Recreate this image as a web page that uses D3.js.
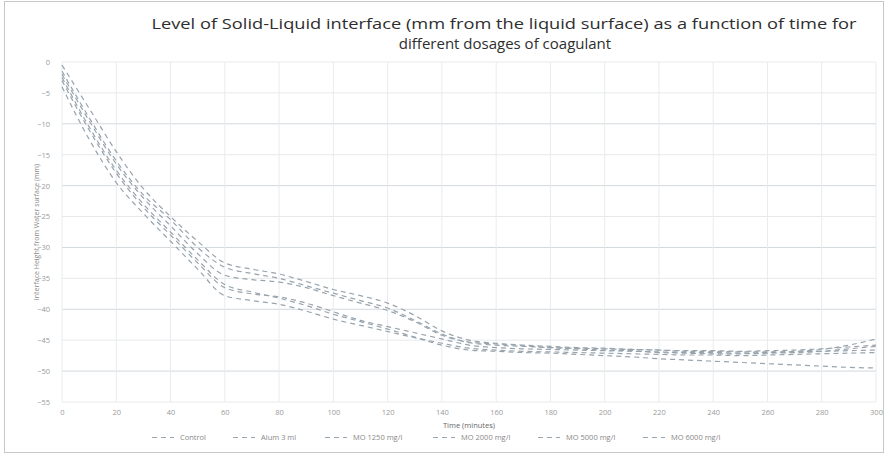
<!DOCTYPE html>
<html>
<head>
<meta charset="utf-8">
<script src="https://cdn.jsdelivr.net/npm/d3@7"></script>
<style>
  body { margin: 0; background: #fff; }
  text { font-family: "Open Sans", "Liberation Sans", sans-serif; }
</style>
</head>
<body>
<div id="chart"></div>
<script>
// time in minutes
const times = [0, 10, 20, 30, 40, 50, 60, 70, 80, 90, 100, 110, 120, 130, 140, 150,
  160, 170, 180, 190, 200, 210, 220, 230, 240, 250, 260, 270, 280, 290, 300];

const seriesNames = ["Control", "Alum 3 ml", "MO 1250 mg/l", "MO 2000 mg/l", "MO 5000 mg/l", "MO 6000 mg/l"];

const control = [-0.5, -7.5, -14.5, -20.5, -25, -29, -32.5, -33.5, -34.3, -35.5, -36.8, -37.8, -39, -41, -43.5, -45,
  -45.5, -45.8, -46, -46.2, -46.3, -46.5, -46.6, -46.8, -46.8, -46.9, -46.9, -46.8, -46.5, -45.8, -44.8];
const alum = [-2, -9.5, -16.5, -22, -26.5, -31, -34.5, -35.2, -35.6, -36.5, -37.8, -39, -40.2, -42, -44.2, -45.3,
  -45.6, -45.9, -46.2, -46.4, -46.6, -46.7, -47, -47.1, -47.2, -47.2, -47.1, -47, -46.8, -46.4, -46];
const mo1250 = [-3, -11, -18, -23.5, -28, -32.5, -36.5, -37.5, -38, -39, -40.4, -41.8, -42.8, -43.8, -44.8, -45.8,
  -46.2, -46.4, -46.5, -46.6, -46.7, -46.8, -46.9, -47, -47, -47.1, -47, -46.9, -46.8, -46.7, -46.6];
const mo2000 = [-4, -12.5, -19.5, -24.5, -29, -33.5, -37.8, -38.6, -39.2, -40.3, -41.6, -42.6, -43.6, -44.6, -45.5, -46.3,
  -46.6, -46.8, -46.9, -47, -47.1, -47.2, -47.3, -47.4, -47.4, -47.5, -47.4, -47.3, -47.2, -47.1, -47];
const mo5000 = [-2.5, -10.5, -17.5, -23, -27.5, -32, -36, -37.2, -38.2, -39.4, -40.8, -42, -43.2, -44.5, -45.8, -46.6,
  -46.8, -47, -47.1, -47.3, -47.5, -47.7, -48, -48.2, -48.4, -48.6, -48.8, -49, -49.2, -49.4, -49.5];
const mo6000 = [-1.5, -9, -16, -21.5, -25.5, -30, -33.2, -34.2, -35, -36.2, -37.4, -38.6, -39.8, -41.8, -44, -45.4,
  -45.8, -46, -46.2, -46.3, -46.4, -46.5, -46.6, -46.7, -46.7, -46.8, -46.7, -46.6, -46.4, -46.1, -45.8];

const xTicks = [0, 20, 40, 60, 80, 100, 120, 140, 160, 180, 200, 220, 240, 260, 280, 300];
const yTicks = [0, -5, -10, -15, -20, -25, -30, -35, -40, -45, -50, -55];

const allSeries = [control, alum, mo1250, mo2000, mo5000, mo6000];

const W = 885, H = 457;
const margin = {top: 62, right: 9, bottom: 55, left: 62};
const width = W - margin.left - margin.right;
const height = H - margin.top - margin.bottom;

const svg = d3.select("#chart").append("svg")
  .attr("width", W).attr("height", H);

// cadre
svg.append("rect")
  .attr("x", 4.5).attr("y", 1.5)
  .attr("width", 879).attr("height", 451)
  .attr("fill", "#fff").attr("stroke", "#c8c8c8");

const g = svg.append("g").attr("transform", `translate(${margin.left},${margin.top})`);

const x = d3.scaleLinear().domain([0, 300]).range([0, width]);
const y = d3.scaleLinear().domain([0, -55]).range([0, height]);

// grille
g.selectAll(".hgrid").data(yTicks).enter().append("line")
  .attr("x1", 0).attr("x2", width)
  .attr("y1", d => y(d)).attr("y2", d => y(d))
  .attr("stroke", d => (d % 10 === 0 && d !== 0) ? "#d2d8dc" : "#e6e9eb")
  .attr("stroke-width", 1);
g.selectAll(".vgrid").data(xTicks).enter().append("line")
  .attr("y1", 0).attr("y2", height)
  .attr("x1", d => x(d)).attr("x2", d => x(d))
  .attr("stroke", "#e8ebed").attr("stroke-width", 1);

// axes
const xAxis = g.append("g").attr("transform", `translate(0,${height})`)
  .call(d3.axisBottom(x).tickValues(xTicks).tickSize(0).tickPadding(8));
xAxis.select(".domain").remove();
xAxis.selectAll("text").attr("fill", "#9a9a9a").style("font-size", "7.5px");

const yAxis = g.append("g")
  .call(d3.axisLeft(y).tickValues(yTicks).tickSize(0).tickPadding(12));
yAxis.select(".domain").remove();
yAxis.selectAll("text").attr("fill", "#9a9a9a").style("font-size", "7.5px");

// courbes
const line = d3.line()
  .x((d, i) => x(times[i]))
  .y(d => y(d))
  .curve(d3.curveMonotoneX);

g.selectAll(".series").data(allSeries).enter().append("path")
  .attr("fill", "none")
  .attr("stroke", "#98a4ad")
  .attr("stroke-width", 1.2)
  .attr("stroke-dasharray", "5,4")
  .attr("d", d => line(d));

// titre
svg.append("text")
  .attr("x", 504).attr("y", 29)
  .attr("text-anchor", "middle")
  .attr("fill", "#2e2e2e")
  .attr("textLength", 705)
  .attr("lengthAdjust", "spacingAndGlyphs")
  .style("font-size", "15px")
  .text("Level of Solid-Liquid interface (mm from the liquid surface) as a function of time for");
svg.append("text")
  .attr("x", 505).attr("y", 49)
  .attr("text-anchor", "middle")
  .attr("fill", "#2e2e2e")
  .style("font-size", "15px")
  .text("different dosages of coagulant");

// titres des axes
svg.append("text")
  .attr("x", 469).attr("y", 428)
  .attr("text-anchor", "middle")
  .attr("fill", "#666")
  .style("font-size", "7.5px")
  .text("Time (minutes)");
svg.append("text")
  .attr("transform", "translate(39,232) rotate(-90)")
  .attr("text-anchor", "middle")
  .attr("fill", "#888")
  .style("font-size", "7px")
  .text("Interface Height from Water surface (mm)");

// légende
const legendX = [152, 233, 325, 433, 538, 643];
const legend = svg.append("g");
seriesNames.forEach((name, i) => {
  const lg = legend.append("g").attr("transform", `translate(${legendX[i]},440)`);
  lg.append("line")
    .attr("x1", 0).attr("x2", 22).attr("y1", -2.5).attr("y2", -2.5)
    .attr("stroke", "#98a4ad").attr("stroke-width", 1.2)
    .attr("stroke-dasharray", "5,4");
  lg.append("text")
    .attr("x", 28).attr("y", 0)
    .attr("fill", "#888")
    .style("font-size", "7.5px")
    .text(name);
});
</script>
</body>
</html>
